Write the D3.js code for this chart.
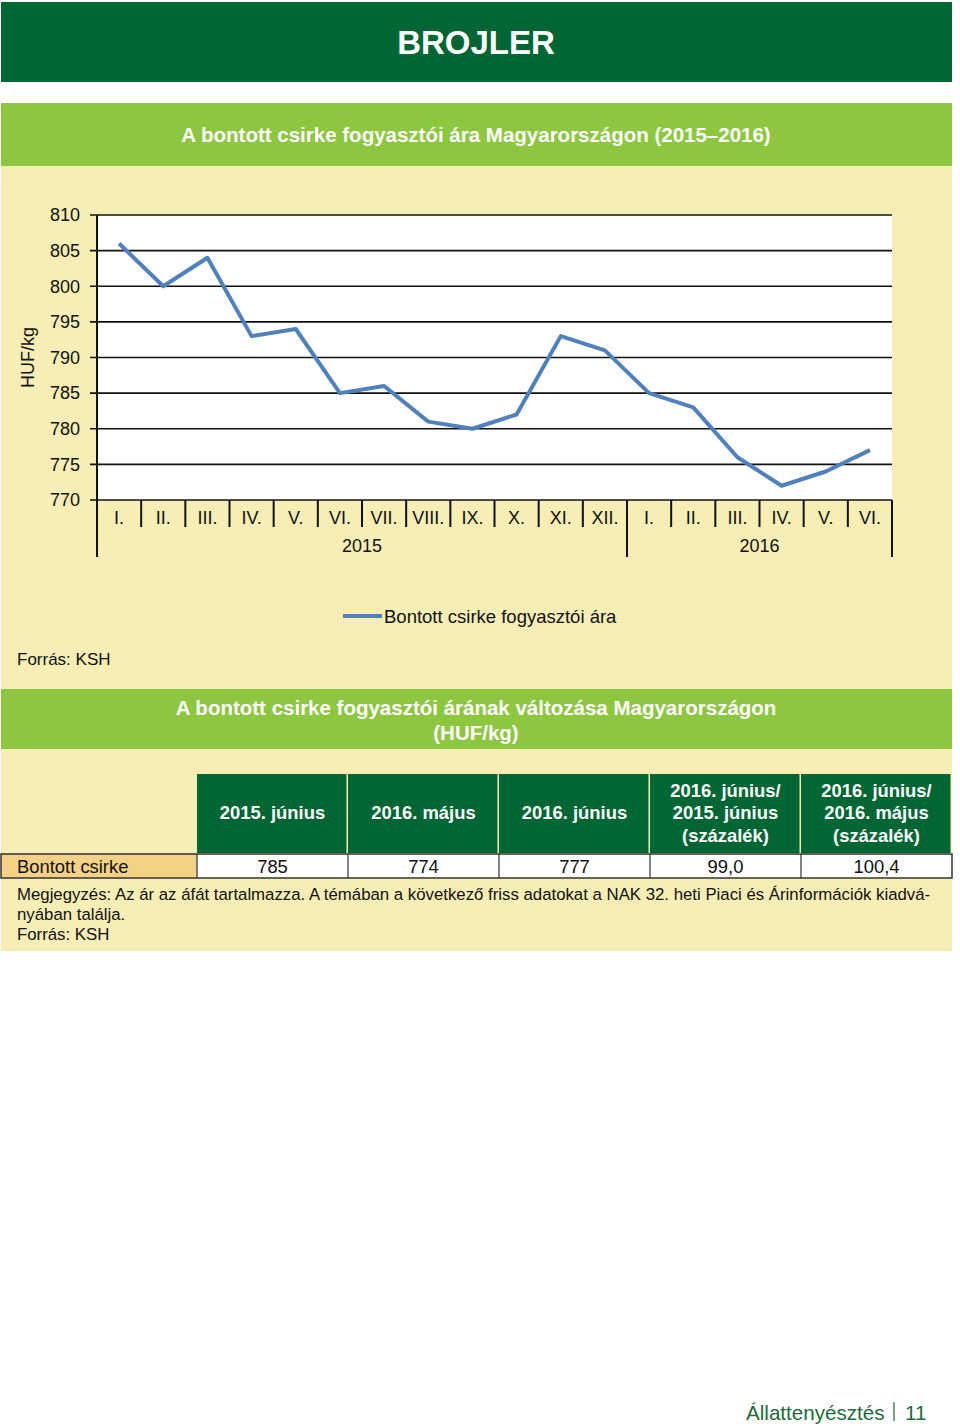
<!DOCTYPE html>
<html><head><meta charset="utf-8">
<script src="https://cdn.jsdelivr.net/npm/d3@7"></script>
<style>
body{margin:0;background:#fff;}
svg{display:block;font-family:"Liberation Sans",Arial,sans-serif;}
</style></head>
<body><div id="chart"></div>
<script>
const months = ["I.","II.","III.","IV.","V.","VI.","VII.","VIII.","IX.","X.","XI.","XII.","I.","II.","III.","IV.","V.","VI."];
const years = ["2015","2016"];
const yearCounts = [12,6];
const prices = [806,800,804,793,794,785,786,781,780,782,793,791,785,783,776,772,774,777];
const yTicks = [770,775,780,785,790,795,800,805,810];
const seriesName = "Bontott csirke fogyasztói ára";
const tableHeaders = [["2015. június"],["2016. május"],["2016. június"],["2016. június/","2015. június","(százalék)"],["2016. június/","2016. május","(százalék)"]];
const rowLabel = "Bontott csirke";
const rowValues = ["785","774","777","99,0","100,4"];

const W=960,H=1426;
const darkGreen="#006633", lightGreen="#8dc63f", cream="#f6eeb4", lineBlue="#4f81bd";
const svg=d3.select("#chart").append("svg").attr("width",W).attr("height",H);
svg.append("rect").attr("width",W).attr("height",H).attr("fill","#fff");

// header
svg.append("rect").attr("x",1).attr("y",2).attr("width",951).attr("height",80).attr("fill",darkGreen);
svg.append("text").attr("x",476).attr("y",54).attr("text-anchor","middle").attr("fill","#fff")
  .attr("font-size",33).attr("font-weight","bold").text("BROJLER");

// chart section
svg.append("rect").attr("x",1).attr("y",103).attr("width",951).attr("height",63).attr("fill",lightGreen);
svg.append("text").attr("x",476).attr("y",142).attr("text-anchor","middle").attr("fill","#fff")
  .attr("font-size",20.5).attr("font-weight","bold").text("A bontott csirke fogyasztói ára Magyarországon (2015–2016)");
svg.append("rect").attr("x",1).attr("y",166).attr("width",951).attr("height",523).attr("fill",cream);

const pl=97, pr=892, pt=215, pb=500;
const x=d3.scaleBand().domain(d3.range(months.length)).range([pl,pr]).padding(0);
const y=d3.scaleLinear().domain([770,810]).range([pb,pt]);
const g=svg.append("g");
g.append("rect").attr("x",pl).attr("y",pt).attr("width",pr-pl).attr("height",pb-pt).attr("fill","#fff");
// gridlines
g.selectAll("line.grid").data(yTicks).join("line").attr("class","grid")
  .attr("x1",pl-7).attr("x2",pr).attr("y1",d=>y(d)).attr("y2",d=>y(d))
  .attr("stroke","#111").attr("stroke-width",1.6);
// y labels
g.selectAll("text.yl").data(yTicks).join("text").attr("class","yl")
  .attr("x",80).attr("y",d=>y(d)).attr("dy","0.35em").attr("text-anchor","end")
  .attr("font-size",18).attr("fill","#111").text(d=>d);
// y axis line
g.append("line").attr("x1",pl).attr("x2",pl).attr("y1",pt).attr("y2",557).attr("stroke","#111").attr("stroke-width",2);
// y title
g.append("text").attr("transform",`translate(34,${(pt+pb)/2}) rotate(-90)`).attr("text-anchor","middle")
  .attr("font-size",18).attr("fill","#111").text("HUF/kg");
// x category separators
g.selectAll("line.sep").data(d3.range(1,months.length+1)).join("line").attr("class","sep")
  .attr("x1",d=>x(d-1)+x.bandwidth()).attr("x2",d=>x(d-1)+x.bandwidth())
  .attr("y1",pb).attr("y2",527).attr("stroke","#111").attr("stroke-width",2);
// year separators
let acc=0;
const yearBounds=[];
yearCounts.forEach((c,i)=>{yearBounds.push([acc,acc+c]);acc+=c;});
g.selectAll("line.ysep").data(yearBounds).join("line").attr("class","ysep")
  .attr("x1",d=>x(d[1]-1)+x.bandwidth()).attr("x2",d=>x(d[1]-1)+x.bandwidth())
  .attr("y1",pb).attr("y2",557).attr("stroke","#111").attr("stroke-width",2);
g.selectAll("text.yr").data(yearBounds).join("text").attr("class","yr")
  .attr("x",d=>(x(d[0])+x(d[1]-1)+x.bandwidth())/2).attr("y",552).attr("text-anchor","middle")
  .attr("font-size",18).attr("fill","#111").text((d,i)=>years[i]);
// month labels
g.selectAll("text.ml").data(months).join("text").attr("class","ml")
  .attr("x",(d,i)=>x(i)+x.bandwidth()/2).attr("y",523.5).attr("text-anchor","middle")
  .attr("font-size",18).attr("fill","#111").text(d=>d);
// line
g.append("path").datum(prices)
  .attr("d",d3.line().x((d,i)=>x(i)+x.bandwidth()/2).y(d=>y(d)))
  .attr("fill","none").attr("stroke",lineBlue).attr("stroke-width",4).attr("stroke-linejoin","round");
// legend
g.append("line").attr("x1",343).attr("x2",382).attr("y1",616).attr("y2",616).attr("stroke",lineBlue).attr("stroke-width",4);
g.append("text").attr("x",384).attr("y",622.5).attr("font-size",18.5).attr("fill","#111").text(seriesName);
svg.append("text").attr("x",17).attr("y",665).attr("font-size",17).attr("fill","#111").text("Forrás: KSH");

// table section
svg.append("rect").attr("x",1).attr("y",689).attr("width",951).attr("height",60).attr("fill",lightGreen);
svg.append("text").attr("x",476).attr("y",714.5).attr("text-anchor","middle").attr("fill","#fff")
  .attr("font-size",20.5).attr("font-weight","bold").text("A bontott csirke fogyasztói árának változása Magyarországon");
svg.append("text").attr("x",476).attr("y",739.5).attr("text-anchor","middle").attr("fill","#fff")
  .attr("font-size",20.5).attr("font-weight","bold").text("(HUF/kg)");
svg.append("rect").attr("x",1).attr("y",749).attr("width",951).attr("height",202).attr("fill",cream);

const colX=d3.scaleBand().domain(d3.range(tableHeaders.length)).range([197,952]);
const tg=svg.append("g");
tg.selectAll("rect.th").data(tableHeaders).join("rect").attr("class","th")
  .attr("x",(d,i)=>colX(i)).attr("y",774).attr("width",colX.bandwidth()-1.5).attr("height",79).attr("fill",darkGreen);
tableHeaders.forEach((lines,i)=>{
  const cx=colX(i)+colX.bandwidth()/2;
  const n=lines.length;
  lines.forEach((t,j)=>{
    tg.append("text").attr("x",cx).attr("y",813+(j-(n-1)/2)*22.5).attr("dy","0.35em").attr("text-anchor","middle")
      .attr("fill","#fff").attr("font-size",18.4).attr("font-weight","bold").text(t);
  });
});
// data row
tg.append("rect").attr("x",1).attr("y",854).attr("width",196).attr("height",24).attr("fill","#f4d184");
tg.selectAll("rect.td").data(rowValues).join("rect").attr("class","td")
  .attr("x",(d,i)=>colX(i)).attr("y",854).attr("width",colX.bandwidth()).attr("height",24).attr("fill","#fff");
tg.append("rect").attr("x",1).attr("y",854).attr("width",951).attr("height",24).attr("fill","none").attr("stroke","#333").attr("stroke-width",1.5);
tg.selectAll("line.tdv").data(d3.range(tableHeaders.length)).join("line").attr("class","tdv")
  .attr("x1",d=>colX(d)).attr("x2",d=>colX(d)).attr("y1",854).attr("y2",878).attr("stroke","#333").attr("stroke-width",1.2);
tg.append("text").attr("x",17).attr("y",872.5).attr("font-size",18.4).attr("fill","#111").text(rowLabel);
tg.selectAll("text.tv").data(rowValues).join("text").attr("class","tv")
  .attr("x",(d,i)=>colX(i)+colX.bandwidth()/2).attr("y",872.5).attr("text-anchor","middle")
  .attr("font-size",18.4).attr("fill","#111").text(d=>d);

const notes=["Megjegyzés: Az ár az áfát tartalmazza. A témában a következő friss adatokat a NAK 32. heti Piaci és Árinformációk kiadvá-","nyában találja.","Forrás: KSH"];
svg.selectAll("text.note").data(notes).join("text").attr("class","note")
  .attr("x",17).attr("y",(d,i)=>900+i*20).attr("font-size",16.8).attr("fill","#111").text(d=>d);

// footer
svg.append("text").attr("x",746).attr("y",1420).attr("font-size",20.6).attr("fill","#1e6b3c").text("Állattenyésztés");
svg.append("line").attr("x1",894).attr("x2",894).attr("y1",1402).attr("y2",1421).attr("stroke","#1e6b3c").attr("stroke-width",1.2);
svg.append("text").attr("x",905).attr("y",1420).attr("font-size",20.6).attr("fill","#1e6b3c").text("11");
</script></body></html>
